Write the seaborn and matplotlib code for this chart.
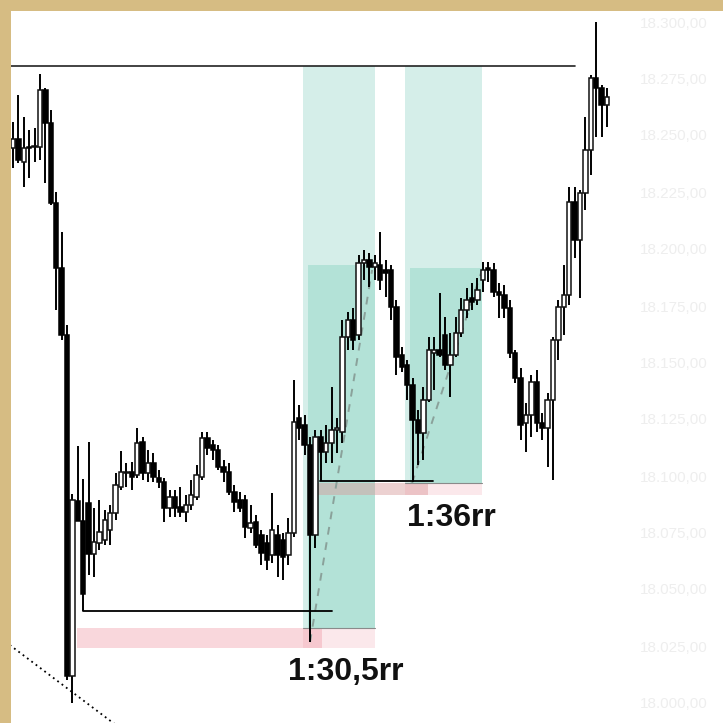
import numpy as np
import pandas as pd
import matplotlib
matplotlib.use('Agg')
import matplotlib.pyplot as plt
import seaborn as sns
from matplotlib.patches import Rectangle

# candle data (price in chart points)
opens = [852, 861, 838, 853, 853, 853, 910, 877, 797, 732,
         665, 324, 499, 479, 497, 446, 457, 460, 470, 487,
         513, 527, 528, 525, 558, 527, 537, 522, 518, 492,
         503, 493, 488, 495, 503, 523, 562, 555, 550, 533,
         528, 508, 500, 500, 472, 478, 465, 457, 445, 465,
         460, 445, 467, 582, 575, 555, 465, 563, 548, 557,
         570, 568, 663, 680, 665, 737, 740, 733, 735, 730,
         730, 693, 645, 635, 615, 580, 567, 600, 647, 650,
         665, 635, 645, 667, 690, 702, 700, 720, 732, 730,
         708, 705, 692, 647, 622, 577, 585, 618, 577, 572,
         600, 660, 693, 705, 798, 760, 807, 850, 922, 912,
         895]
highs = [878, 905, 883, 870, 872, 926, 912, 890, 808, 768,
         675, 506, 554, 521, 558, 492, 500, 490, 495, 527,
         549, 537, 538, 572, 563, 550, 547, 530, 522, 510,
         510, 513, 505, 520, 535, 568, 568, 560, 555, 540,
         537, 515, 508, 505, 495, 485, 470, 465, 507, 475,
         467, 482, 620, 595, 585, 563, 570, 570, 575, 613,
         582, 680, 688, 692, 745, 750, 747, 745, 768, 740,
         735, 700, 653, 640, 622, 590, 613, 663, 663, 707,
         683, 667, 683, 702, 712, 717, 722, 738, 738, 737,
         717, 715, 700, 650, 632, 597, 625, 630, 587, 607,
         663, 700, 735, 813, 813, 810, 883, 925, 978, 915,
         912]
lows = [832, 837, 813, 822, 838, 840, 817, 795, 690, 660,
        320, 297, 479, 389, 425, 423, 450, 455, 455, 480,
        510, 513, 510, 522, 520, 518, 518, 512, 478, 483,
        483, 483, 478, 490, 500, 520, 545, 540, 530, 518,
        505, 488, 488, 462, 467, 452, 435, 430, 437, 423,
        420, 435, 463, 560, 545, 358, 452, 519, 537, 537,
        547, 557, 650, 650, 660, 720, 713, 720, 710, 703,
        680, 625, 628, 600, 518, 535, 540, 598, 610, 643,
        630, 603, 643, 663, 682, 690, 695, 708, 718, 703,
        682, 682, 642, 617, 560, 548, 563, 568, 560, 533,
        520, 640, 665, 695, 742, 702, 790, 825, 863, 863,
        873]
closes = [861, 840, 852, 852, 854, 910, 877, 797, 732, 665,
          324, 500, 479, 406, 446, 458, 468, 480, 487, 515,
          528, 528, 523, 557, 527, 537, 523, 518, 492, 503,
          492, 488, 495, 505, 525, 562, 552, 550, 533, 528,
          508, 498, 492, 473, 477, 455, 447, 440, 470, 445,
          443, 467, 578, 572, 555, 465, 563, 548, 557, 570,
          572, 663, 680, 660, 737, 740, 733, 737, 720, 727,
          693, 643, 633, 615, 580, 567, 600, 650, 650, 645,
          635, 645, 667, 690, 700, 698, 710, 730, 730, 708,
          705, 692, 647, 622, 575, 585, 618, 577, 572, 600,
          660, 693, 705, 798, 760, 807, 850, 922, 912, 895,
          903]

# right price scale (barely visible in the screenshot)
price_ticks = [978, 922, 865, 808, 751, 694, 638, 581, 524, 468, 411, 354, 298]
price_labels = ['18.300,00', '18.275,00', '18.250,00', '18.225,00', '18.200,00',
                '18.175,00', '18.150,00', '18.125,00', '18.100,00', '18.075,00',
                '18.050,00', '18.025,00', '18.000,00']

# levels / zones (bar index, price)
high_level = 934
high_level_span = [-0.4, 104.1]
low_level_1 = 389
low_level_1_span = [12.96, 59.1]
low_level_2 = 519
low_level_2_span = [56.85, 77.8]

# position 1
pos1_x = [53.7, 67.0]
pos1_entry, pos1_stop, pos1_target = 372, 352, 934
pos1_inner_x = [54.6, 67.0]
pos1_inner_top = 735
zone1_x = [11.85, 57.2]
# position 2
pos2_x = [72.6, 86.85]
pos2_entry, pos2_stop, pos2_target = 517, 505, 934
pos2_inner_x = [73.5, 86.85]
pos2_inner_top = 732
zone2_x = [56.5, 76.85]

path1_x, path1_y = [55.0, 66.5], [358, 730]
path2_x, path2_y = [73.9, 86.85], [517, 730]
trend_x, trend_y = [-0.6, 22.0], [355, 263]

rr_labels = ['1:30,5rr', '1:36rr']
rr_x = [61.7, 81.1]
rr_y = [328, 482]

sns.set_theme(style='white')
plt.rcParams['font.family'] = ['Liberation Sans', 'DejaVu Sans']

fig = plt.figure(figsize=(7.23, 7.23), dpi=100, facecolor='#d6bc83')
ax = fig.add_axes([11 / 723, 0, 712 / 723, 712 / 723])
ax.set_facecolor('white')

teal_light = '#d5eee9'
teal_dark = '#b3e2d7'
pink = '#ee8e9c'

# position boxes
for px, entry, stop, target, ix, itop in [
        (pos1_x, pos1_entry, pos1_stop, pos1_target, pos1_inner_x, pos1_inner_top),
        (pos2_x, pos2_entry, pos2_stop, pos2_target, pos2_inner_x, pos2_inner_top)]:
    ax.add_patch(Rectangle((px[0], entry), px[1] - px[0], target - entry,
                           color=teal_light, lw=0, zorder=1))
    ax.add_patch(Rectangle((ix[0], entry), ix[1] - ix[0], itop - entry,
                           color=teal_dark, lw=0, zorder=1.1))
    ax.add_patch(Rectangle((px[0], stop), px[1] - px[0], entry - stop,
                           color=pink, alpha=0.2, lw=0, zorder=1.3))
    ax.plot(px, [entry, entry], color='#8a8a8a', lw=0.8, zorder=1.5)

# order block zones
ax.add_patch(Rectangle((zone1_x[0], pos1_stop), zone1_x[1] - zone1_x[0], pos1_entry - pos1_stop,
                       color=pink, alpha=0.35, lw=0, zorder=1.2))
ax.add_patch(Rectangle((zone2_x[0], pos2_stop), zone2_x[1] - zone2_x[0], pos2_entry - pos2_stop,
                       color='#d79a9a', alpha=0.45, lw=0, zorder=1.2))

# dashed paths
sns.lineplot(x=path1_x, y=path1_y, ax=ax, color='#8aa19a', lw=1.4,
             linestyle=(0, (4, 4)), zorder=2)
sns.lineplot(x=path2_x, y=path2_y, ax=ax, color='#8aa19a', lw=1.4,
             linestyle=(0, (4, 4)), zorder=2)
sns.lineplot(x=trend_x, y=trend_y, ax=ax, color='black', lw=1.3,
             linestyle=(0, (1, 2)), zorder=2)

# levels
ax.plot(high_level_span, [high_level] * 2, color='#222222', lw=1.2, zorder=3)
ax.plot(low_level_1_span, [low_level_1] * 2, color='black', lw=1.3, zorder=3)
ax.plot(low_level_2_span, [low_level_2] * 2, color='black', lw=1.3, zorder=3)

# candles
df = pd.DataFrame({'open': opens, 'high': highs, 'low': lows, 'close': closes})
df['idx'] = np.arange(len(df))
up = df['close'] >= df['open']
body_lo = df[['open', 'close']].min(axis=1)
body_h = (df['close'] - df['open']).abs().clip(lower=1.5)
ax.vlines(df['idx'], df['low'], df['high'], color='black', lw=1.4, zorder=4)
ax.bar(df['idx'][up], body_h[up], bottom=body_lo[up], width=0.8,
       color='white', edgecolor='#111111', linewidth=1.1, zorder=5)
ax.bar(df['idx'][~up], body_h[~up], bottom=body_lo[~up], width=0.8,
       color='black', edgecolor='black', linewidth=1.1, zorder=5)

for t, x, y in zip(rr_labels, rr_x, rr_y):
    ax.text(x, y, t, ha='center', va='center', fontsize=23, fontweight='bold',
            color='#111111', zorder=6)

ax.set_xlim(-0.37, 131.48)
ax.set_ylim(277, 989)
ax.set_xticks([])
ax.yaxis.tick_right()
ax.set_yticks(price_ticks)
ax.set_yticklabels(price_labels, color='#eeeeee', fontsize=11)
ax.tick_params(axis='y', length=0, pad=-60)
for s in ax.spines.values():
    s.set_visible(False)
ax.set_xlabel('')
ax.set_ylabel('')

fig.savefig('out.png', dpi=100, facecolor=fig.get_facecolor())
